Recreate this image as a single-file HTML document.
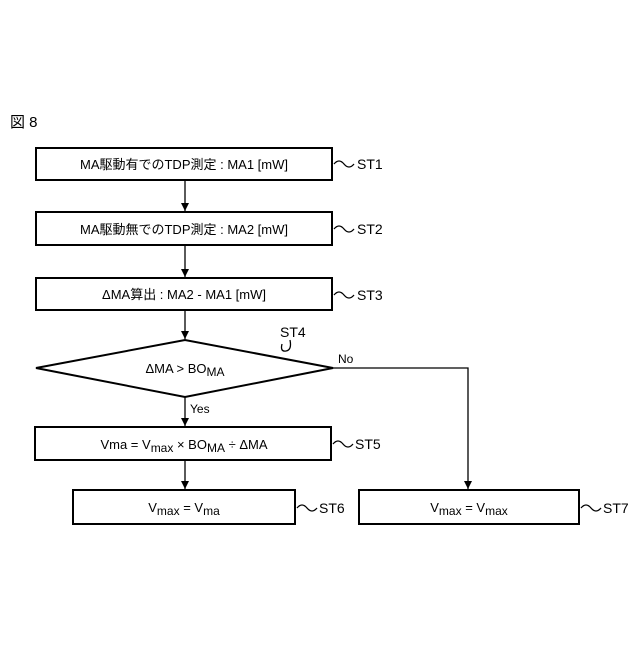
<!DOCTYPE html>
<html><head><meta charset="utf-8"><style>
body{margin:0;background:#fff}
svg text{font-family:"Liberation Sans","Noto Sans CJK JP",sans-serif;fill:#000}
</style></head><body>
<svg width="640" height="640" viewBox="0 0 640 640" xmlns="http://www.w3.org/2000/svg">
<defs><marker id="a" viewBox="0 0 10 10" refX="10" refY="5" markerWidth="8" markerHeight="10" markerUnits="userSpaceOnUse" orient="auto"><path d="M0,0L10,5L0,10z" fill="#000"/></marker></defs>
<text x="10" y="127" font-size="15">図 8</text>
<g fill="none" stroke="#000" stroke-width="2">
<rect x="36" y="148" width="296" height="32"/>
<rect x="36" y="212" width="296" height="33"/>
<rect x="36" y="278" width="296" height="32"/>
<path d="M36,368L185,340L333,368L185,397Z"/>
<rect x="35" y="427" width="296" height="33"/>
<rect x="73" y="490" width="222" height="34"/>
<rect x="359" y="490" width="220" height="34"/>
</g>
<g fill="none" stroke="#000" stroke-width="1.3">
<line x1="185" y1="180" x2="185" y2="211" marker-end="url(#a)"/>
<line x1="185" y1="245" x2="185" y2="277" marker-end="url(#a)"/>
<line x1="185" y1="310" x2="185" y2="339" marker-end="url(#a)"/>
<line x1="185" y1="397" x2="185" y2="426" marker-end="url(#a)"/>
<line x1="185" y1="460" x2="185" y2="489" marker-end="url(#a)"/>
<path d="M333,368H468V489" marker-end="url(#a)"/>
<path d="M334,164q5,-6 10,0t10,0"/>
<path d="M334,229q5,-6 10,0t10,0"/>
<path d="M334,295q5,-6 10,0t10,0"/>
<path d="M333,444q5,-6 10,0t10,0"/>
<path d="M297,508q5,-6 10,0t10,0"/>
<path d="M581,508q5,-6 10,0t10,0"/>
<path d="M282,344q-2,8 4,7t4,-11"/>
</g>
<g font-size="14">
<text x="357" y="169">ST1</text>
<text x="357" y="234">ST2</text>
<text x="357" y="300">ST3</text>
<text x="280" y="337">ST4</text>
<text x="355" y="449">ST5</text>
<text x="319" y="513">ST6</text>
<text x="603" y="513">ST7</text>
</g>
<g font-size="13" text-anchor="middle">
<text x="184" y="169">MA駆動有でのTDP測定 : MA1 [mW]</text>
<text x="184" y="234">MA駆動無でのTDP測定 : MA2 [mW]</text>
<text x="184" y="299">ΔMA算出 : MA2 - MA1 [mW]</text>
<text x="185" y="373">ΔMA &gt; BO<tspan font-size="12" dy="3">MA</tspan></text>
<text x="184" y="449">Vma = V<tspan font-size="12" dy="3">max</tspan><tspan dy="-3"> × BO</tspan><tspan font-size="12" dy="3">MA</tspan><tspan dy="-3"> ÷ ΔMA</tspan></text>
<text x="184" y="512">V<tspan font-size="12" dy="3">max</tspan><tspan dy="-3"> = V</tspan><tspan font-size="12" dy="3">ma</tspan></text>
<text x="469" y="512">V<tspan font-size="12" dy="3">max</tspan><tspan dy="-3"> = V</tspan><tspan font-size="12" dy="3">max</tspan></text>
</g>
<text x="338" y="363" font-size="12">No</text>
<text x="190" y="413" font-size="12">Yes</text>
</svg>
</body></html>
